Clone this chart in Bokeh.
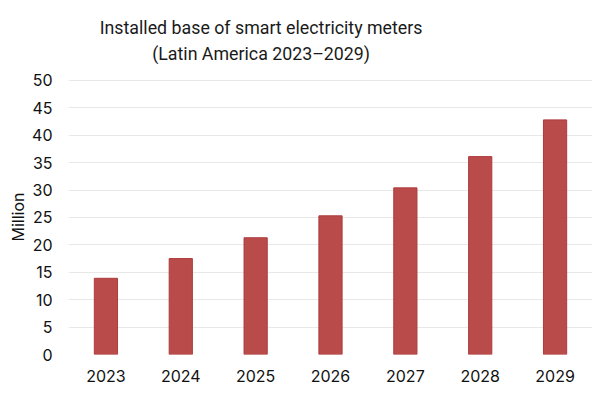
from bokeh.plotting import figure
from bokeh.models import Range1d, Label, Title
from bokeh.embed import file_html
from bokeh.resources import INLINE

years = ["2023", "2024", "2025", "2026", "2027", "2028", "2029"]
installed = [13.9, 17.5, 21.3, 25.3, 30.4, 36.1, 42.8]
y_ticks = [0, 5, 10, 15, 20, 25, 30, 35, 40, 45, 50]
title_text = "Installed base of smart electricity meters\n(Latin America 2023\u20132029)"
y_label = "Million"

FONT = "Inter"
TITLE_FONT = "Roboto"

# frame spans the whole height above the x axis; the axis is bounded at 0..50
p = figure(x_range=years, y_range=Range1d(0, 64.58), width=600, height=400,
           output_backend="svg", toolbar_location=None,
           min_border_left=68, min_border_right=8, min_border_top=0,
           min_border_bottom=46)
p.outline_line_color = None
p.background_fill_color = "white"

p.vbar(x=years, top=installed, width=0.31, fill_color="#B94B4B",
       line_color="#AE3B3B", line_width=1)

p.xgrid.grid_line_color = None
p.ygrid.grid_line_color = "#e8e8e8"
p.ygrid.grid_line_width = 1.2
p.yaxis.ticker = y_ticks
p.yaxis.bounds = (0, 50)

for ax in (p.xaxis[0], p.yaxis[0]):
    ax.axis_line_color = None
    ax.major_tick_line_color = None
    ax.minor_tick_line_color = None
    ax.major_tick_out = 0
    ax.major_tick_in = 0
    ax.major_label_text_font = FONT
    ax.major_label_text_font_size = "16px"
    ax.major_label_text_color = "#111111"

p.yaxis.major_label_standoff = 16
p.xaxis.major_label_standoff = 15

# y axis caption, centred on the 0..50 span of the axis
ylab = Title(text=y_label, align="left", offset=113, vertical_align="bottom",
             text_font=FONT, text_font_size="16px", text_font_style="normal",
             text_color="#111111", standoff=3)
p.add_layout(ylab, "left")

title = Label(x=192.6, y=337.5, x_units="screen", y_units="screen",
              text=title_text, text_align="center", text_baseline="top",
              text_font=TITLE_FONT, text_font_size="17.8px",
              text_color="#1a1a1a", text_line_height=1.22)
p.add_layout(title)

open("out.html", "w").write(file_html(p, INLINE))
